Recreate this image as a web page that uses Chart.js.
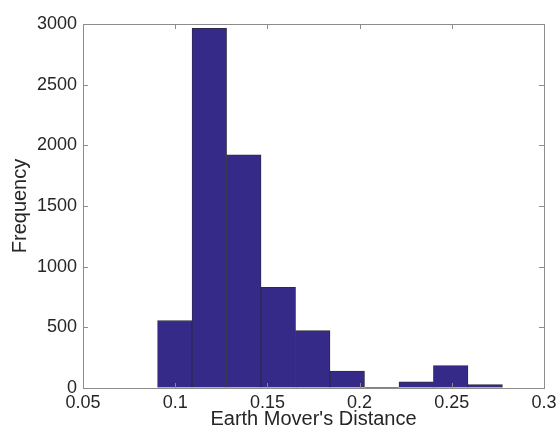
<!DOCTYPE html>
<html>
<head>
<meta charset="utf-8">
<script src="https://cdn.jsdelivr.net/npm/chart.js@4"></script>
<style>
  html, body { margin: 0; padding: 0; background: #fff; }
  #wrap { width: 556px; height: 431px; }
</style>
</head>
<body>
<div id="wrap"><canvas id="hist"></canvas></div>
<script>
// Histogram bins (centres) and counts
const binCenters = [0.0998, 0.1185, 0.1372, 0.1559, 0.1746, 0.1933, 0.2120, 0.2307, 0.2494, 0.2681];
const counts = [555, 2965, 1922, 830, 474, 140, 5, 50, 185, 28];
const xTicks = [0.05, 0.1, 0.15, 0.2, 0.25, 0.3];
const yTicks = [0, 500, 1000, 1500, 2000, 2500, 3000];

const axisGrey = '#8c8c8c';
const textColor = '#262626';
const fontFamily = "'Liberation Sans', Arial, Helvetica, sans-serif";

// MATLAB-style box with inward ticks on all four sides
const boxTicks = {
    id: 'boxTicks',
    afterDraw(chart) {
        const { ctx, chartArea: a, scales: { x, y } } = chart;
        const len = 5;
        ctx.save();
        ctx.strokeStyle = axisGrey;
        ctx.lineWidth = 1;
        ctx.beginPath();
        ctx.rect(Math.round(a.left) + 0.5, Math.round(a.top) + 0.5,
                 Math.round(a.right - a.left), Math.round(a.bottom - a.top));
        xTicks.forEach(v => {
            const px = Math.round(x.getPixelForValue(v)) + 0.5;
            ctx.moveTo(px, a.bottom); ctx.lineTo(px, a.bottom - len);
            ctx.moveTo(px, a.top); ctx.lineTo(px, a.top + len);
        });
        yTicks.forEach(v => {
            const py = Math.round(y.getPixelForValue(v)) + 0.5;
            ctx.moveTo(a.left, py); ctx.lineTo(a.left + len, py);
            ctx.moveTo(a.right, py); ctx.lineTo(a.right - len, py);
        });
        ctx.stroke();
        ctx.restore();
    }
};

new Chart(document.getElementById('hist'), {
    type: 'bar',
    data: {
        datasets: [{
            data: binCenters.map((c, i) => ({ x: c, y: counts[i] })),
            backgroundColor: '#352a87',
            borderColor: '#2a2a3a',
            borderWidth: 0.8,
            barPercentage: 1,
            categoryPercentage: 1
        }]
    },
    options: {
        responsive: true,
        maintainAspectRatio: false,
        animation: false,
        layout: { padding: { top: 24, right: 0, left: 0, bottom: 0 } },
        plugins: { legend: { display: false }, tooltip: { enabled: false } },
        scales: {
            x: {
                type: 'linear',
                min: 0.05,
                max: 0.3,
                offset: false,
                afterBuildTicks: s => { s.ticks = xTicks.map(v => ({ value: v })); },
                afterFit: s => { s.height = 43; s.paddingRight = 12; },
                grid: { drawOnChartArea: false, drawTicks: false },
                border: { color: axisGrey },
                ticks: {
                    color: textColor,
                    font: { family: fontFamily, size: 18 },
                    padding: 4,
                    maxRotation: 0,
                    callback: v => String(+v.toFixed(2))
                },
                title: {
                    display: true,
                    text: "Earth Mover's Distance",
                    color: textColor,
                    font: { family: fontFamily, size: 20 },
                    padding: { top: 0, bottom: 0 }
                }
            },
            y: {
                min: 0,
                max: 3000,
                afterBuildTicks: s => { s.ticks = yTicks.map(v => ({ value: v })); },
                afterFit: s => { s.width = 83; },
                grid: { drawOnChartArea: false, drawTicks: false },
                border: { color: axisGrey },
                ticks: {
                    color: textColor,
                    font: { family: fontFamily, size: 18 },
                    padding: 6,
                    callback: v => String(v)
                },
                title: {
                    display: true,
                    text: 'Frequency',
                    color: textColor,
                    font: { family: fontFamily, size: 20 },
                    padding: { top: 8, bottom: 0 }
                }
            }
        }
    },
    plugins: [boxTicks]
});
</script>
</body>
</html>
